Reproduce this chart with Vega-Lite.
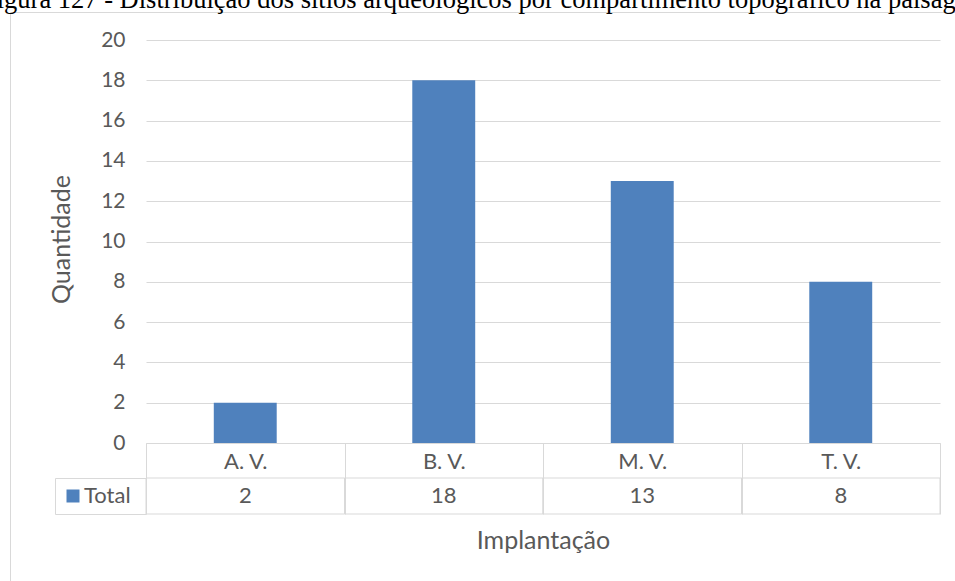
{
  "$schema": "https://vega.github.io/schema/vega-lite/v6.json",
  "autosize": {"type": "none"},
  "padding": {"left": 10, "top": 12, "right": -5, "bottom": -6},
  "width": 950,
  "height": 575,
  "background": "white",
  "title": {
    "text": "Figura 127 - Distribuição dos sítios arqueológicos por compartimento topográfico na paisagem",
    "font": "Liberation Serif",
    "fontSize": 26.5,
    "fontWeight": "normal",
    "color": "#000000",
    "anchor": "middle",
    "frame": "group",
    "baseline": "alphabetic",
    "offset": -22.3,
    "dx": 0
  },
  "data": {
    "values": [
      {"cat": "A. V.", "serie": "Total", "value": 2},
      {"cat": "B. V.", "serie": "Total", "value": 18},
      {"cat": "M. V.", "serie": "Total", "value": 13},
      {"cat": "T. V.", "serie": "Total", "value": 8}
    ]
  },
  "encoding": {
    "x": {
      "field": "cat",
      "type": "nominal",
      "sort": null,
      "scale": {"type": "band", "range": [136, 930], "paddingInner": 0, "paddingOuter": 0},
      "axis": {
        "orient": "bottom",
        "offset": -144,
        "domain": true,
        "domainColor": "#D9D9D9",
        "ticks": true,
        "tickBand": "extent",
        "tickSize": 71,
        "tickColor": "#D9D9D9",
        "labelAngle": 0,
        "labelFont": "Lato",
        "labelFontSize": 22,
        "labelColor": "#595959",
        "labelBaseline": "middle",
        "labelPadding": -53,
        "title": "Implantação",
        "titleFont": "Lato",
        "titleFontSize": 25,
        "titleFontWeight": "normal",
        "titleColor": "#595959",
        "titleBaseline": "alphabetic",
        "titleY": 105
      }
    }
  },
  "layer": [
    {
      "mark": {"type": "bar", "width": {"band": 0.317}},
      "encoding": {
        "y": {
          "field": "value",
          "type": "quantitative",
          "scale": {"domain": [0, 20], "range": [431, 28], "nice": false},
          "axis": {
            "orient": "left",
            "offset": -136,
            "values": [0, 2, 4, 6, 8, 10, 12, 14, 16, 18, 20],
            "domain": false,
            "ticks": false,
            "grid": true,
            "gridColor": "#D9D9D9",
            "labelFont": "Lato",
            "labelFontSize": 21,
            "labelColor": "#595959",
            "labelPadding": 21,
            "title": "Quantidade",
            "titleFont": "Lato",
            "titleFontSize": 25,
            "titleFontWeight": "normal",
            "titleColor": "#595959",
            "titleBaseline": "alphabetic",
            "titleAngle": -90,
            "titleX": -77,
            "titleY": 227
          }
        },
        "color": {
          "field": "serie",
          "type": "nominal",
          "scale": {"range": ["#4F81BD"]},
          "legend": {
            "orient": "none",
            "legendX": 52,
            "legendY": 473,
            "title": null,
            "padding": 0,
            "symbolType": "square",
            "symbolSize": 169,
            "symbolStrokeWidth": 0,
            "labelOffset": 0,
            "labelFont": "Lato",
            "labelFontSize": 22,
            "labelColor": "#595959"
          }
        }
      }
    },
    {
      "encoding": {
        "y": {
          "field": "serie",
          "type": "nominal",
          "scale": {"type": "band", "domain": ["Total"], "range": [466, 502], "paddingInner": 0, "paddingOuter": 0},
          "axis": {
            "orient": "left",
            "offset": -45,
            "domain": true,
            "domainColor": "#D9D9D9",
            "ticks": true,
            "tickBand": "extent",
            "tickSize": -91,
            "tickColor": "#D9D9D9",
            "labels": false,
            "grid": false,
            "title": null
          }
        }
      },
      "layer": [
        {"mark": {"type": "rect", "fillOpacity": 0, "stroke": "#D9D9D9", "strokeWidth": 1}},
        {
          "mark": {"type": "text", "font": "Lato", "fontSize": 22, "color": "#595959", "baseline": "middle"},
          "encoding": {"text": {"field": "value", "type": "quantitative"}}
        }
      ]
    }
  ],
  "resolve": {"scale": {"y": "independent"}, "axis": {"y": "independent"}},
  "config": {
    "view": {"stroke": "#D9D9D9", "strokeWidth": 1}
  }
}
